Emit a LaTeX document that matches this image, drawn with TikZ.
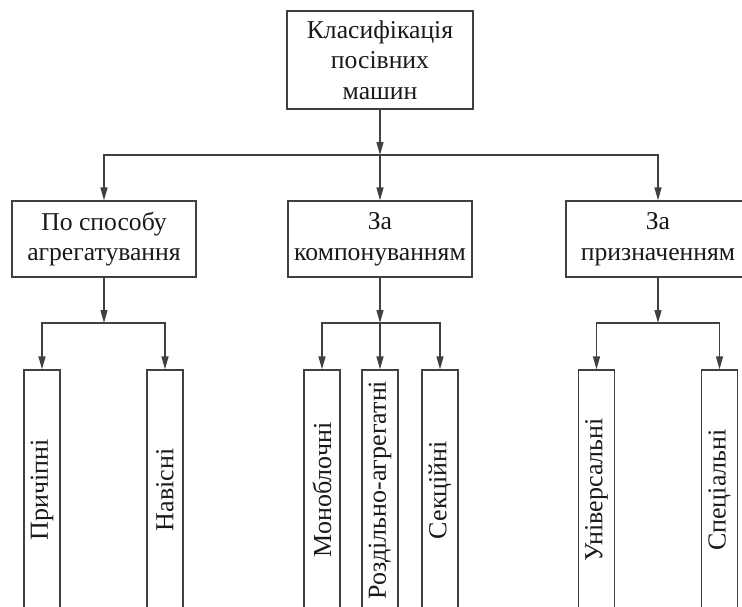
\documentclass[tikz,border=0pt]{standalone}
\usepackage{fontspec}
\setmainfont{Liberation Serif}
\usetikzlibrary{arrows.meta}

\begin{document}
\begin{tikzpicture}[
  line/.style={draw=black!75, line width=0.75pt},
  box/.style={rectangle, line, text=black!90, align=center, minimum width=3.68cm, minimum height=1.52cm, font=\fontsize{14.6}{17.5}\selectfont},
  vbox/.style={rectangle, line, rotate=90, minimum width=4.8cm, minimum height=0.72cm, text=black!90, font=\fontsize{14.8}{17}\selectfont},
  arr/.style={line, -{Triangle[length=2.6mm, width=1.4mm]}}
]
  \useasboundingbox (0,0) rectangle (14.84,-12.12);
  % Nodes
  \node (klas) [box, minimum width=3.72cm, minimum height=1.96cm] at (7.6,-1.2) {Класифікація\\посівних\\машин};
  \node (agr) [box] at (2.08,-4.78) {По способу\\агрегатування};
  \node (komp) [box] at (7.6,-4.78) {За\\компонуванням};
  \node (pryzn) [box] at (13.16,-4.78) {За\\призначенням};
  \node (prych) [vbox] at (0.84,-9.8) {Причіпні};
  \node (navis) [vbox] at (3.3,-9.8) {Навісні};
  \node (monob) [vbox] at (6.44,-9.8) {Моноблочні};
  \node (rozd) [vbox] at (7.6,-9.8) {Роздільно-агрегатні};
  \node (sekc) [vbox] at (8.8,-9.8) {Секційні};
  \node (univ) [vbox] at (11.93,-9.8) {Універсальні};
  \node (spec) [vbox] at (14.39,-9.8) {Спеціальні};
  % Junctions
  \coordinate (j0) at (7.6,-3.1);
  \coordinate (j1) at (2.08,-6.46);
  \coordinate (j2) at (7.6,-6.46);
  \coordinate (j3) at (13.16,-6.46);
  % Arrow
  \draw[arr] (klas) -- (j0);
  \draw[arr] (j0) -| (agr);
  \draw[arr] (j0) -- (komp);
  \draw[arr] (j0) -| (pryzn);
  \draw[arr] (agr) -- (j1);
  \draw[arr] (j1) -| (prych);
  \draw[arr] (j1) -| (navis);
  \draw[arr] (komp) -- (j2);
  \draw[arr] (j2) -| (monob);
  \draw[arr] (j2) -- (rozd);
  \draw[arr] (j2) -| (sekc);
  \draw[arr] (pryzn) -- (j3);
  \draw[arr] (j3) -| (univ);
  \draw[arr] (j3) -| (spec);
\end{tikzpicture}
\end{document}
